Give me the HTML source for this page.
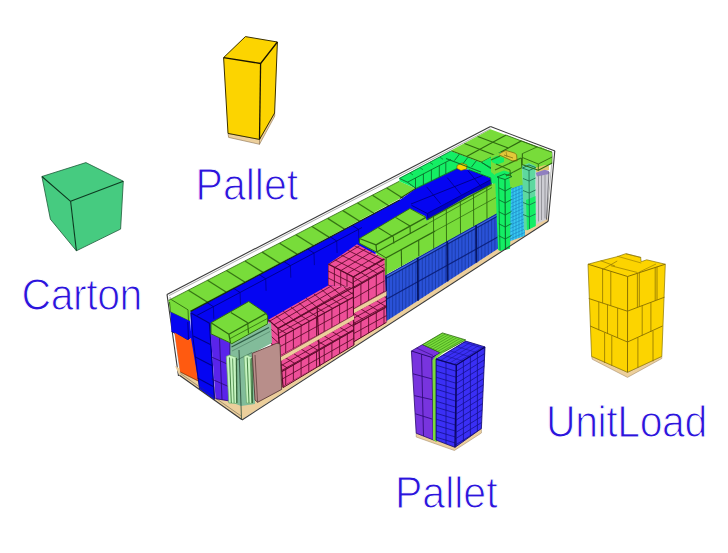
<!DOCTYPE html>
<html><head><meta charset="utf-8"><style>
html,body{margin:0;padding:0;background:#fff;}
body{width:728px;height:553px;overflow:hidden;position:relative;}
svg{position:absolute;left:0;top:0;}
.lbl{position:absolute;font-family:"Liberation Sans",sans-serif;color:#2B14DC;white-space:nowrap;line-height:1;-webkit-text-stroke:1.0px #fff;font-size:41px;transform:scaleY(1.07);transform-origin:0 34px;}
</style></head><body>
<svg width="728" height="553" viewBox="0 0 728 553">
<polygon points="41.9,176.5 85.9,162.6 123.3,181.2 120.6,229.1 76.4,250.8 50.4,219.2" fill="#46CB80" stroke="#1f5a3a" stroke-width="0.8" stroke-linejoin="round"/>
<polyline points="41.9,176.5 70.6,201.3 123.3,181.2" fill="none" stroke="#0d3a20" stroke-width="1.1" stroke-linejoin="round"/>
<line x1="70.6" y1="201.3" x2="76.4" y2="250.8" stroke="#0d3a20" stroke-width="1.1"/>
<polygon points="228.0,133.4 259.5,139.4 259.5,144.3 228.6,137.4" fill="#ECCF9C" stroke="#8a7050" stroke-width="0.6" stroke-linejoin="round"/>
<polygon points="259.5,139.4 274.6,113.0 274.8,116.0 259.5,144.3" fill="#ECCF9C" stroke="#8a7050" stroke-width="0.6" stroke-linejoin="round"/>
<polygon points="223.6,57.6 245.4,36.6 277.4,42.0 274.6,113.0 259.5,139.4 228.0,133.4" fill="#FCD400" stroke="#3a3000" stroke-width="1.0" stroke-linejoin="round"/>
<polyline points="223.6,57.6 260.6,63.5 277.4,42.0" fill="none" stroke="#1a1400" stroke-width="1.3" stroke-linejoin="round"/>
<line x1="260.6" y1="63.5" x2="259.5" y2="139.4" stroke="#1a1400" stroke-width="1.3"/>
<polygon points="591.6,356.4 627.5,372.3 661.8,356.4 661.8,358.5 627.5,377.4 592.3,359.3" fill="#ECCF9C" stroke="#9a8060" stroke-width="0.5" stroke-linejoin="round"/>
<polygon points="588.0,264.2 599.8,261.1 617.1,256.7 625.7,253.7 640.6,257.4 641.2,261.7 646.7,259.8 665.3,264.2 661.8,356.4 627.5,372.3 591.6,356.4" fill="#FCD400" stroke="#8a7400" stroke-width="0.7" stroke-linejoin="round"/>
<line x1="627.6" y1="276.5" x2="627.5" y2="372.3" stroke="#8a7000" stroke-width="1.0"/>
<polyline points="588.0,264.2 627.6,276.5 665.3,264.2" fill="none" stroke="#8a7000" stroke-width="1.0" stroke-linejoin="round"/>
<polyline points="588.8,298.5 627.4,311.2 664.5,297.2" fill="none" stroke="#8a7000" stroke-width="1.0" stroke-linejoin="round" opacity="0.9"/>
<polyline points="590.1,326.0 627.5,342.0 662.5,326.0" fill="none" stroke="#8a7000" stroke-width="1.0" stroke-linejoin="round" opacity="0.9"/>
<line x1="602.6" y1="268.8" x2="602.6" y2="303.1" stroke="#8a7000" stroke-width="0.9" opacity="0.85"/>
<line x1="610.8" y1="271.4" x2="610.8" y2="305.8" stroke="#8a7000" stroke-width="0.9" opacity="0.85"/>
<line x1="637.4" y1="273.3" x2="637.4" y2="307.5" stroke="#8a7000" stroke-width="0.9" opacity="0.85"/>
<line x1="639.3" y1="272.7" x2="639.3" y2="306.7" stroke="#8a7000" stroke-width="0.9" opacity="0.85"/>
<line x1="655.2" y1="267.5" x2="655.2" y2="300.7" stroke="#8a7000" stroke-width="0.9" opacity="0.85"/>
<line x1="657.0" y1="266.9" x2="657.0" y2="300.0" stroke="#8a7000" stroke-width="0.9" opacity="0.85"/>
<line x1="598.8" y1="301.9" x2="598.8" y2="330.2" stroke="#8a7000" stroke-width="0.9" opacity="0.85"/>
<line x1="607.5" y1="304.7" x2="607.5" y2="333.8" stroke="#8a7000" stroke-width="0.9" opacity="0.85"/>
<line x1="617.6" y1="308.0" x2="617.6" y2="337.9" stroke="#8a7000" stroke-width="0.9" opacity="0.85"/>
<line x1="642.2" y1="305.6" x2="642.2" y2="335.6" stroke="#8a7000" stroke-width="0.9" opacity="0.85"/>
<line x1="650.9" y1="302.3" x2="650.9" y2="331.9" stroke="#8a7000" stroke-width="0.9" opacity="0.85"/>
<line x1="604.6" y1="332.6" x2="604.6" y2="363.0" stroke="#8a7000" stroke-width="0.9" opacity="0.85"/>
<line x1="611.8" y1="335.6" x2="611.8" y2="365.9" stroke="#8a7000" stroke-width="0.9" opacity="0.85"/>
<line x1="637.9" y1="337.5" x2="637.9" y2="367.8" stroke="#8a7000" stroke-width="0.9" opacity="0.85"/>
<line x1="653.0" y1="331.0" x2="653.0" y2="361.3" stroke="#8a7000" stroke-width="0.9" opacity="0.85"/>
<line x1="600.7" y1="260.7" x2="615.0" y2="266.0" stroke="#8a7000" stroke-width="0.8" opacity="0.8"/>
<line x1="602.6" y1="269.5" x2="617.2" y2="261.0" stroke="#8a7000" stroke-width="0.8" opacity="0.8"/>
<line x1="610.8" y1="265.7" x2="637.4" y2="272.5" stroke="#8a7000" stroke-width="0.8" opacity="0.8"/>
<line x1="617.2" y1="256.2" x2="641.2" y2="263.0" stroke="#8a7000" stroke-width="0.8" opacity="0.7"/>
<line x1="626.0" y1="253.7" x2="641.2" y2="257.5" stroke="#8a7000" stroke-width="0.8" opacity="0.7"/>
<line x1="639.3" y1="272.0" x2="656.0" y2="264.0" stroke="#8a7000" stroke-width="0.8" opacity="0.7"/>
<polygon points="416.2,433.2 455.0,447.3 481.4,428.5 481.4,433.0 454.4,450.5 416.2,437.0" fill="#ECCF9C" stroke="#9a8060" stroke-width="0.5" stroke-linejoin="round"/>
<polygon points="411.4,351.0 422.5,344.6 440.6,352.8 436.0,356.0 436.0,441.0 416.2,433.2" fill="#7834DE" stroke="#2a0a70" stroke-width="0.8" stroke-linejoin="round"/>
<polyline points="411.4,351.0 431.9,357.4 440.6,352.8" fill="none" stroke="#2a0a70" stroke-width="1.0" stroke-linejoin="round"/>
<line x1="431.9" y1="357.4" x2="433.2" y2="439.1" stroke="#2a0a70" stroke-width="1.0"/>
<line x1="421.5" y1="354.3" x2="423.5" y2="436.0" stroke="#2a0a70" stroke-width="0.9" opacity="0.9"/>
<line x1="413.0" y1="373.8" x2="432.3" y2="379.0" stroke="#2a0a70" stroke-width="0.9" opacity="0.9"/>
<line x1="414.3" y1="395.6" x2="432.3" y2="399.7" stroke="#2a0a70" stroke-width="0.9" opacity="0.9"/>
<line x1="415.4" y1="413.8" x2="432.3" y2="419.1" stroke="#2a0a70" stroke-width="0.9" opacity="0.9"/>
<line x1="416.5" y1="348.0" x2="433.0" y2="355.5" stroke="#2a0a70" stroke-width="0.8" opacity="0.7"/>
<polygon points="422.5,344.6 442.4,332.9 465.7,339.9 443.5,352.2 440.6,352.8" fill="#78DC3A" stroke="#2f6a10" stroke-width="0.8" stroke-linejoin="round"/>
<clipPath id="c1"><polygon points="422.5,344.6 442.4,332.9 465.7,339.9 443.5,352.2 440.6,352.8"/></clipPath>
<path clip-path="url(#c1)" d="M370.3 320.3L461.2 267.6M371.4 322.2L462.3 269.5M372.5 324.2L463.5 271.4M373.6 326.1L464.6 273.4M374.8 328.1L465.7 275.3M375.9 330.0L466.8 277.3M377.0 332.0L468.0 279.2M378.2 333.9L469.1 281.2M379.3 335.9L470.2 283.1M380.4 337.8L471.4 285.1M381.5 339.8L472.5 287.0M382.7 341.7L473.6 289.0M383.8 343.6L474.7 290.9M384.9 345.6L475.9 292.8M386.1 347.5L477.0 294.8M387.2 349.5L478.1 296.7M388.3 351.4L479.2 298.7M389.4 353.4L480.4 300.6M390.6 355.3L481.5 302.6M391.7 357.3L482.6 304.5M392.8 359.2L483.8 306.5M394.0 361.2L484.9 308.4M395.1 363.1L486.0 310.4M396.2 365.0L487.1 312.3M397.3 367.0L488.3 314.2M398.5 368.9L489.4 316.2M399.6 370.9L490.5 318.1M400.7 372.8L491.7 320.1M401.9 374.8L492.8 322.0M403.0 376.7L493.9 324.0M404.1 378.7L495.0 325.9M405.2 380.6L496.2 327.9M406.4 382.6L497.3 329.8M407.5 384.5L498.4 331.8M408.6 386.4L499.6 333.7M409.8 388.4L500.7 335.7M410.9 390.3L501.8 337.6M412.0 392.3L502.9 339.5M413.1 394.2L504.1 341.5M414.3 396.2L505.2 343.4M415.4 398.1L506.3 345.4M416.5 400.1L507.5 347.3M417.7 402.0L508.6 349.3M418.8 404.0L509.7 351.2M419.9 405.9L510.8 353.2M421.0 407.8L512.0 355.1M422.2 409.8L513.1 357.1M423.3 411.7L514.2 359.0M424.4 413.7L515.4 360.9M425.5 415.6L516.5 362.9M426.7 417.6L517.6 364.8" stroke="#3a8a18" stroke-width="0.8" opacity="0.8" fill="none"/>
<polygon points="432.5,360.0 436.0,355.5 440.6,352.8 445.0,351.5 437.0,358.0 437.0,442.0 433.0,440.0" fill="#78DC3A"/>
<polygon points="436.0,359.2 465.7,341.1 485.0,346.9 481.4,428.5 455.0,447.3 436.0,440.0" fill="#3A2FF5" stroke="#10086a" stroke-width="0.8" stroke-linejoin="round"/>
<clipPath id="c2"><polygon points="436.0,359.2 456.4,365.0 455.0,447.3 436.0,440.0"/></clipPath>
<path clip-path="url(#c2)" d="M384.2 277.7L567.1 332.5M382.6 283.2L565.4 338.0M380.9 288.7L563.8 343.5M379.3 294.2L562.1 349.0M377.6 299.7L560.4 354.5M376.0 305.2L558.8 360.0M374.3 310.7L557.1 365.5M372.7 316.2L555.5 371.0M371.0 321.7L553.8 376.6M369.4 327.2L552.2 382.1M367.7 332.7L550.5 387.6M366.1 338.2L548.9 393.1M364.4 343.7L547.2 398.6M362.8 349.2L545.6 404.1M361.1 354.7L543.9 409.6M359.5 360.2L542.3 415.1M357.8 365.7L540.6 420.6M356.2 371.3L539.0 426.1M354.5 376.8L537.3 431.6M352.9 382.3L535.7 437.1M351.2 387.8L534.0 442.6M349.6 393.3L532.4 448.1M347.9 398.8L530.7 453.6M346.3 404.3L529.1 459.1M344.6 409.8L527.4 464.6M343.0 415.3L525.8 470.1M341.3 420.8L524.1 475.6M339.7 426.3L522.5 481.1M338.0 431.8L520.8 486.6M336.4 437.3L519.2 492.1M334.7 442.8L517.5 497.7M333.0 448.3L515.9 503.2M331.4 453.8L514.2 508.7M329.7 459.3L512.6 514.2M328.1 464.8L510.9 519.7M326.4 470.3L509.3 525.2M324.8 475.8L507.6 530.7" stroke="#14108a" stroke-width="0.9" opacity="0.85" fill="none"/>
<clipPath id="c3"><polygon points="436.0,359.2 456.4,365.0 455.0,447.3 436.0,440.0"/></clipPath>
<path clip-path="url(#c3)" d="M336.0 307.8L336.0 498.7M346.0 307.8L346.0 498.7M356.0 307.8L356.0 498.7M366.0 307.8L366.0 498.7M376.0 307.8L376.0 498.7M386.0 307.8L386.0 498.7M396.0 307.8L396.0 498.7M406.0 307.8L406.0 498.7M416.0 307.8L416.0 498.7M426.0 307.8L426.0 498.7M436.0 307.8L436.0 498.7M446.0 307.8L446.0 498.7M456.0 307.8L456.0 498.7M466.0 307.8L466.0 498.7M476.0 307.8L476.0 498.7M486.0 307.8L486.0 498.7M496.0 307.8L496.0 498.7M506.0 307.8L506.0 498.7M516.0 307.8L516.0 498.7M526.0 307.8L526.0 498.7M536.0 307.8L536.0 498.7M546.0 307.8L546.0 498.7M556.0 307.8L556.0 498.7" stroke="#14108a" stroke-width="0.9" opacity="0.85" fill="none"/>
<clipPath id="c4"><polygon points="456.4,365.0 485.0,346.9 481.4,428.5 455.0,447.3"/></clipPath>
<path clip-path="url(#c4)" d="M314.8 355.2L501.4 239.5M317.6 359.6L504.2 243.9M320.3 364.0L506.9 248.3M323.0 368.4L509.6 252.7M325.8 372.8L512.4 257.1M328.5 377.2L515.1 261.5M331.2 381.6L517.8 265.9M334.0 386.0L520.6 270.3M336.7 390.4L523.3 274.7M339.4 394.8L526.0 279.1M342.1 399.2L528.8 283.5M344.9 403.6L531.5 287.9M347.6 408.0L534.2 292.3M350.3 412.5L537.0 296.8M353.1 416.9L539.7 301.2M355.8 421.3L542.4 305.6M358.5 425.7L545.2 310.0M361.3 430.1L547.9 314.4M364.0 434.5L550.6 318.8M366.7 438.9L553.4 323.2M369.5 443.3L556.1 327.6M372.2 447.7L558.8 332.0M374.9 452.1L561.5 336.4M377.7 456.5L564.3 340.8M380.4 460.9L567.0 345.2M383.1 465.3L569.7 349.6M385.9 469.7L572.5 354.0M388.6 474.1L575.2 358.4M391.3 478.5L577.9 362.8M394.1 483.0L580.7 367.3M396.8 487.4L583.4 371.7M399.5 491.8L586.1 376.1M402.3 496.2L588.9 380.5M405.0 500.6L591.6 384.9M407.7 505.0L594.3 389.3M410.4 509.4L597.1 393.7M413.2 513.8L599.8 398.1M415.9 518.2L602.5 402.5M418.6 522.6L605.3 406.9M421.4 527.0L608.0 411.3M424.1 531.4L610.7 415.7M426.8 535.8L613.5 420.1M429.6 540.2L616.2 424.5M432.3 544.6L618.9 428.9M435.0 549.0L621.6 433.3M437.8 553.5L624.4 437.8" stroke="#14108a" stroke-width="0.9" opacity="0.85" fill="none"/>
<clipPath id="c5"><polygon points="456.4,365.0 485.0,346.9 481.4,428.5 455.0,447.3"/></clipPath>
<path clip-path="url(#c5)" d="M351.4 287.3L351.4 506.9M358.4 287.3L358.4 506.9M365.4 287.3L365.4 506.9M372.4 287.3L372.4 506.9M379.4 287.3L379.4 506.9M386.4 287.3L386.4 506.9M393.4 287.3L393.4 506.9M400.4 287.3L400.4 506.9M407.4 287.3L407.4 506.9M414.4 287.3L414.4 506.9M421.4 287.3L421.4 506.9M428.4 287.3L428.4 506.9M435.4 287.3L435.4 506.9M442.4 287.3L442.4 506.9M449.4 287.3L449.4 506.9M456.4 287.3L456.4 506.9M463.4 287.3L463.4 506.9M470.4 287.3L470.4 506.9M477.4 287.3L477.4 506.9M484.4 287.3L484.4 506.9M491.4 287.3L491.4 506.9M498.4 287.3L498.4 506.9M505.4 287.3L505.4 506.9M512.4 287.3L512.4 506.9M519.4 287.3L519.4 506.9M526.4 287.3L526.4 506.9M533.4 287.3L533.4 506.9M540.4 287.3L540.4 506.9M547.4 287.3L547.4 506.9M554.4 287.3L554.4 506.9M561.4 287.3L561.4 506.9M568.4 287.3L568.4 506.9M575.4 287.3L575.4 506.9M582.4 287.3L582.4 506.9M589.4 287.3L589.4 506.9" stroke="#14108a" stroke-width="0.9" opacity="0.85" fill="none"/>
<clipPath id="c6"><polygon points="436.0,359.2 465.7,341.1 485.0,346.9 456.4,365.0"/></clipPath>
<path clip-path="url(#c6)" d="M375.7 327.4L477.8 266.1M377.5 330.3L479.5 269.1M379.2 333.3L481.3 272.0M381.0 336.2L483.1 275.0M382.8 339.1L484.8 277.9M384.5 342.1L486.6 280.8M386.3 345.0L488.4 283.8M388.0 348.0L490.1 286.7M389.8 350.9L491.9 289.7M391.6 353.9L493.6 292.6M393.3 356.8L495.4 295.6M395.1 359.7L497.2 298.5M396.9 362.7L498.9 301.4M398.6 365.6L500.7 304.4M400.4 368.6L502.5 307.3M402.2 371.5L504.2 310.3M403.9 374.4L506.0 313.2M405.7 377.4L507.8 316.1M407.5 380.3L509.5 319.1M409.2 383.3L511.3 322.0M411.0 386.2L513.1 325.0M412.8 389.1L514.8 327.9M414.5 392.1L516.6 330.8M416.3 395.0L518.4 333.8M418.0 398.0L520.1 336.7M419.8 400.9L521.9 339.7M421.6 403.9L523.6 342.6M423.3 406.8L525.4 345.6M425.1 409.7L527.2 348.5M426.9 412.7L528.9 351.4M428.6 415.6L530.7 354.4M430.4 418.6L532.5 357.3M432.2 421.5L534.2 360.3M433.9 424.4L536.0 363.2M435.7 427.4L537.8 366.1M437.5 430.3L539.5 369.1M439.2 433.3L541.3 372.0M441.0 436.2L543.1 375.0M442.8 439.1L544.8 377.9" stroke="#14108a" stroke-width="0.8" opacity="0.6" fill="none"/>
<clipPath id="c7"><polygon points="436.0,359.2 465.7,341.1 485.0,346.9 456.4,365.0"/></clipPath>
<path clip-path="url(#c7)" d="M384.2 400.4L498.2 434.6M385.9 394.6L499.9 428.8M387.6 388.8L501.7 423.0M389.4 383.0L503.4 417.2M391.1 377.2L505.1 411.4M392.8 371.5L506.9 405.7M394.6 365.7L508.6 399.9M396.3 359.9L510.3 394.1M398.0 354.1L512.1 388.3M399.8 348.3L513.8 382.5M401.5 342.6L515.5 376.8M403.2 336.8L517.3 371.0M405.0 331.0L519.0 365.2M406.7 325.2L520.7 359.4M408.4 319.4L522.5 353.6M410.2 313.7L524.2 347.9M411.9 307.9L525.9 342.1M413.6 302.1L527.7 336.3M415.4 296.3L529.4 330.5M417.1 290.5L531.1 324.7M418.8 284.8L532.9 319.0M420.6 279.0L534.6 313.2M422.3 273.2L536.3 307.4M424.1 267.4L538.1 301.6" stroke="#14108a" stroke-width="0.8" opacity="0.6" fill="none"/>
<line x1="456.4" y1="365.0" x2="455.0" y2="447.3" stroke="#0a0660" stroke-width="1.3"/>
<polyline points="436.0,359.2 456.4,365.0 485.0,346.9" fill="none" stroke="#0a0660" stroke-width="1.2" stroke-linejoin="round"/>
<line x1="167.0" y1="294.4" x2="490.5" y2="126.6" stroke="#3a3a3a" stroke-width="1.1"/>
<line x1="169.0" y1="295.6" x2="490.5" y2="128.8" stroke="#3a3a3a" stroke-width="0.6" opacity="0.7"/>
<line x1="490.5" y1="126.6" x2="555.0" y2="151.0" stroke="#3a3a3a" stroke-width="1.1"/>
<line x1="167.0" y1="294.4" x2="178.5" y2="376.0" stroke="#3a3a3a" stroke-width="1.1"/>
<line x1="170.0" y1="297.0" x2="180.5" y2="375.0" stroke="#3a3a3a" stroke-width="0.6" opacity="0.7"/>
<polygon points="190.5,311.4 400.0,199.8 415.9,188.4 457.7,168.2 468.7,169.6 490.7,177.9 491.3,186.0 440.0,215.0 380.0,250.0 330.0,290.0 270.0,322.0 210.0,332.0 191.0,322.0" fill="#0505F2"/>
<polygon points="168.5,300.4 399.4,181.2 415.9,188.4 400.0,198.5 190.5,311.4 190.0,321.5 171.0,312.5" fill="#78DC3A"/>
<line x1="207.0" y1="302.6" x2="213.4" y2="306.7" stroke="#00007a" stroke-width="1.0" opacity="0.8"/>
<line x1="233.7" y1="288.4" x2="240.1" y2="292.5" stroke="#00007a" stroke-width="1.0" opacity="0.8"/>
<line x1="259.4" y1="274.7" x2="265.7" y2="278.8" stroke="#00007a" stroke-width="1.0" opacity="0.8"/>
<line x1="284.0" y1="261.6" x2="290.4" y2="265.7" stroke="#00007a" stroke-width="1.0" opacity="0.8"/>
<line x1="307.6" y1="249.0" x2="314.0" y2="253.1" stroke="#00007a" stroke-width="1.0" opacity="0.8"/>
<line x1="330.3" y1="236.9" x2="336.7" y2="241.0" stroke="#00007a" stroke-width="1.0" opacity="0.8"/>
<line x1="352.1" y1="225.3" x2="358.5" y2="229.4" stroke="#00007a" stroke-width="1.0" opacity="0.8"/>
<line x1="191.0" y1="318.6" x2="362.0" y2="227.5" stroke="#00007a" stroke-width="1.0" opacity="0.8"/>
<line x1="213.4" y1="306.7" x2="213.8" y2="318.7" stroke="#00007a" stroke-width="0.9" opacity="0.7"/>
<line x1="240.1" y1="292.5" x2="240.5" y2="304.5" stroke="#00007a" stroke-width="0.9" opacity="0.7"/>
<line x1="265.7" y1="278.8" x2="266.1" y2="290.8" stroke="#00007a" stroke-width="0.9" opacity="0.7"/>
<line x1="290.4" y1="265.7" x2="290.8" y2="277.7" stroke="#00007a" stroke-width="0.9" opacity="0.7"/>
<line x1="314.0" y1="253.1" x2="314.4" y2="265.1" stroke="#00007a" stroke-width="0.9" opacity="0.7"/>
<line x1="336.7" y1="241.0" x2="337.1" y2="253.0" stroke="#00007a" stroke-width="0.9" opacity="0.7"/>
<line x1="358.5" y1="229.4" x2="358.9" y2="241.4" stroke="#00007a" stroke-width="0.9" opacity="0.7"/>
<line x1="188.4" y1="290.2" x2="207.6" y2="302.3" stroke="#2f6a10" stroke-width="1.3" opacity="0.9"/>
<line x1="207.5" y1="280.3" x2="226.4" y2="292.3" stroke="#2f6a10" stroke-width="1.3" opacity="0.9"/>
<line x1="226.5" y1="270.5" x2="245.1" y2="282.3" stroke="#2f6a10" stroke-width="1.3" opacity="0.9"/>
<line x1="245.0" y1="261.0" x2="263.3" y2="272.6" stroke="#2f6a10" stroke-width="1.3" opacity="0.9"/>
<line x1="262.2" y1="252.1" x2="280.2" y2="263.6" stroke="#2f6a10" stroke-width="1.3" opacity="0.9"/>
<line x1="279.6" y1="243.2" x2="297.4" y2="254.4" stroke="#2f6a10" stroke-width="1.3" opacity="0.9"/>
<line x1="296.0" y1="234.7" x2="313.5" y2="245.8" stroke="#2f6a10" stroke-width="1.3" opacity="0.9"/>
<line x1="312.0" y1="226.5" x2="329.3" y2="237.4" stroke="#2f6a10" stroke-width="1.3" opacity="0.9"/>
<line x1="327.7" y1="218.4" x2="344.7" y2="229.2" stroke="#2f6a10" stroke-width="1.3" opacity="0.9"/>
<line x1="342.9" y1="210.6" x2="359.7" y2="221.2" stroke="#2f6a10" stroke-width="1.3" opacity="0.9"/>
<line x1="357.6" y1="203.0" x2="374.2" y2="213.5" stroke="#2f6a10" stroke-width="1.3" opacity="0.9"/>
<line x1="372.5" y1="195.3" x2="388.8" y2="205.7" stroke="#2f6a10" stroke-width="1.3" opacity="0.9"/>
<line x1="386.8" y1="188.0" x2="402.9" y2="198.2" stroke="#2f6a10" stroke-width="1.3" opacity="0.9"/>
<line x1="168.5" y1="300.4" x2="399.4" y2="181.2" stroke="#2f6a10" stroke-width="1.0" opacity="0.8"/>
<line x1="190.5" y1="311.4" x2="400.0" y2="199.7" stroke="#102a00" stroke-width="1.3" opacity="0.95"/>
<line x1="171.2" y1="299.5" x2="188.0" y2="309.8" stroke="#2f6a10" stroke-width="1.0" opacity="0.9"/>
<line x1="170.4" y1="312.0" x2="190.0" y2="321.5" stroke="#2f6a10" stroke-width="1.2" opacity="0.9"/>
<line x1="188.0" y1="309.8" x2="188.5" y2="321.0" stroke="#2f6a10" stroke-width="1.0" opacity="0.9"/>
<line x1="169.5" y1="302.0" x2="170.5" y2="312.0" stroke="#2f6a10" stroke-width="1.0" opacity="0.9"/>
<polygon points="399.4,177.9 450.9,151.0 481.2,162.4 492.1,170.6 497.0,174.0 497.0,186.0 491.3,182.7 490.7,177.9 468.7,169.6 457.7,168.2 415.9,188.4 399.4,181.2" fill="#14EE64"/>
<polygon points="427.3,213.5 491.2,179.5 491.8,184.5 428.0,218.8" fill="#0000c8"/>
<line x1="427.3" y1="213.5" x2="491.2" y2="179.5" stroke="#00007a" stroke-width="1.0" opacity="0.8"/>
<line x1="411.0" y1="204.0" x2="490.0" y2="172.5" stroke="#00007a" stroke-width="1.0" opacity="0.8"/>
<line x1="426.6" y1="186.8" x2="440.6" y2="203.8" stroke="#00007a" stroke-width="1.0" opacity="0.75"/>
<line x1="447.2" y1="177.6" x2="461.2" y2="194.6" stroke="#00007a" stroke-width="1.0" opacity="0.75"/>
<line x1="467.8" y1="170.5" x2="481.8" y2="187.5" stroke="#00007a" stroke-width="1.0" opacity="0.75"/>
<line x1="411.5" y1="205.3" x2="427.3" y2="213.5" stroke="#00007a" stroke-width="1.0" opacity="0.8"/>
<line x1="427.3" y1="213.5" x2="428.0" y2="218.8" stroke="#00007a" stroke-width="1.0" opacity="0.8"/>
<polyline points="399.4,178.4 407.5,182.2 450.9,159.5" fill="none" stroke="#0a6a2a" stroke-width="1.0" stroke-linejoin="round" opacity="0.9"/>
<line x1="399.4" y1="178.4" x2="450.9" y2="151.0" stroke="#0a6a2a" stroke-width="1.0" opacity="0.8"/>
<line x1="407.5" y1="182.2" x2="415.9" y2="188.4" stroke="#0a6a2a" stroke-width="1.0" opacity="0.9"/>
<line x1="415.9" y1="188.4" x2="457.7" y2="168.2" stroke="#0a6a2a" stroke-width="1.1" opacity="0.9"/>
<line x1="415.5" y1="178.0" x2="415.5" y2="188.6" stroke="#0a6a2a" stroke-width="1.0" opacity="0.85"/>
<line x1="423.4" y1="173.9" x2="423.4" y2="184.8" stroke="#0a6a2a" stroke-width="1.0" opacity="0.85"/>
<line x1="431.4" y1="169.8" x2="431.4" y2="181.0" stroke="#0a6a2a" stroke-width="1.0" opacity="0.85"/>
<line x1="439.3" y1="165.7" x2="439.3" y2="177.2" stroke="#0a6a2a" stroke-width="1.0" opacity="0.85"/>
<line x1="445.8" y1="162.3" x2="445.8" y2="174.0" stroke="#0a6a2a" stroke-width="1.0" opacity="0.85"/>
<line x1="410.0" y1="172.9" x2="413.0" y2="174.9" stroke="#0a6a2a" stroke-width="0.9" opacity="0.7"/>
<line x1="420.0" y1="167.7" x2="423.0" y2="169.7" stroke="#0a6a2a" stroke-width="0.9" opacity="0.7"/>
<line x1="430.0" y1="162.5" x2="433.0" y2="164.5" stroke="#0a6a2a" stroke-width="0.9" opacity="0.7"/>
<line x1="440.0" y1="157.3" x2="443.0" y2="159.3" stroke="#0a6a2a" stroke-width="0.9" opacity="0.7"/>
<line x1="400.0" y1="198.5" x2="415.9" y2="188.4" stroke="#102a00" stroke-width="1.1" opacity="0.9"/>
<polygon points="450.9,150.5 490.5,129.3 552.0,152.2 552.2,163.0 539.0,168.5 524.0,161.0 500.8,152.1 492.1,156.5 481.2,162.4" fill="#78DC3A"/>
<polyline points="451.3,150.7 481.8,162.3 521.4,140.9" fill="none" stroke="#2f6a10" stroke-width="1.2" stroke-linejoin="round"/>
<line x1="466.6" y1="156.5" x2="506.1" y2="135.1" stroke="#2f6a10" stroke-width="1.1"/>
<line x1="464.5" y1="143.6" x2="495.0" y2="155.2" stroke="#2f6a10" stroke-width="1.1"/>
<line x1="477.7" y1="136.4" x2="508.2" y2="148.0" stroke="#2f6a10" stroke-width="1.1"/>
<line x1="521.4" y1="140.9" x2="552.0" y2="152.2" stroke="#2f6a10" stroke-width="1.0" opacity="0.8"/>
<line x1="506.1" y1="135.1" x2="537.0" y2="147.0" stroke="#2f6a10" stroke-width="1.0" opacity="0.8"/>
<polygon points="457.0,165.5 462.0,163.0 467.0,165.0 466.5,169.0 461.0,170.5 457.0,168.5" fill="#FCD400" stroke="#6a5a00" stroke-width="0.6" stroke-linejoin="round"/>
<polygon points="481.2,162.4 492.1,156.5 500.5,152.0 506.0,155.0 506.0,176.0 497.0,186.0 491.3,182.7 490.7,177.9 468.7,169.6" fill="#14EE64"/>
<line x1="468.7" y1="169.6" x2="490.7" y2="177.9" stroke="#0a6a2a" stroke-width="1.0" opacity="0.9"/>
<line x1="446.0" y1="158.5" x2="481.0" y2="172.0" stroke="#0a6a2a" stroke-width="1.1" opacity="0.9"/>
<line x1="459.5" y1="154.0" x2="454.5" y2="160.5" stroke="#0a6a2a" stroke-width="1.0" opacity="0.85"/>
<line x1="468.0" y1="157.2" x2="463.0" y2="163.7" stroke="#0a6a2a" stroke-width="1.0" opacity="0.85"/>
<line x1="476.5" y1="160.5" x2="471.5" y2="167.0" stroke="#0a6a2a" stroke-width="1.0" opacity="0.85"/>
<line x1="481.8" y1="162.3" x2="490.5" y2="168.5" stroke="#0a6a2a" stroke-width="1.0" opacity="0.85"/>
<line x1="490.5" y1="168.5" x2="497.0" y2="165.5" stroke="#0a6a2a" stroke-width="1.0" opacity="0.85"/>
<line x1="481.2" y1="162.4" x2="497.0" y2="171.0" stroke="#0a6a2a" stroke-width="1.0" opacity="0.8"/>
<line x1="490.7" y1="177.9" x2="491.3" y2="186.0" stroke="#0a6a2a" stroke-width="1.0" opacity="0.8"/>
<polygon points="175.0,366.0 242.0,401.0 546.0,213.0 548.2,221.3 241.7,419.5 179.4,375.2" fill="#ECCF9C"/>
<polygon points="359.4,238.5 409.9,208.5 425.2,216.1 426.8,220.5 467.3,196.3 491.3,184.5 496.0,183.0 500.0,212.0 480.0,223.5 384.9,275.3 383.0,266.0 375.3,252.0 359.4,243.2" fill="#78DC3A"/>
<polyline points="359.4,238.5 376.0,244.9 425.9,217.4" fill="none" stroke="#2f6a10" stroke-width="1.3" stroke-linejoin="round"/>
<polyline points="359.4,238.5 409.9,208.5 425.9,217.4" fill="none" stroke="#2f6a10" stroke-width="1.0" stroke-linejoin="round" opacity="0.9"/>
<line x1="376.0" y1="244.9" x2="376.7" y2="252.1" stroke="#2f6a10" stroke-width="1.2"/>
<line x1="376.7" y1="252.1" x2="427.4" y2="223.9" stroke="#2f6a10" stroke-width="1.2"/>
<line x1="359.4" y1="238.5" x2="359.4" y2="243.2" stroke="#2f6a10" stroke-width="1.0"/>
<line x1="359.4" y1="243.2" x2="376.7" y2="252.1" stroke="#2f6a10" stroke-width="1.0"/>
<line x1="378.2" y1="227.5" x2="393.4" y2="236.9" stroke="#2f6a10" stroke-width="1.1"/>
<line x1="395.5" y1="217.4" x2="410.0" y2="226.0" stroke="#2f6a10" stroke-width="1.1"/>
<line x1="393.4" y1="236.9" x2="393.8" y2="243.5" stroke="#2f6a10" stroke-width="1.1"/>
<line x1="410.0" y1="226.0" x2="410.3" y2="234.0" stroke="#2f6a10" stroke-width="1.1"/>
<line x1="386.1" y1="257.9" x2="435.0" y2="231.1" stroke="#2f6a10" stroke-width="1.2"/>
<line x1="376.7" y1="252.1" x2="386.1" y2="257.9" stroke="#2f6a10" stroke-width="1.0"/>
<line x1="386.1" y1="257.9" x2="386.0" y2="275.3" stroke="#2f6a10" stroke-width="1.1"/>
<line x1="401.3" y1="249.5" x2="401.6" y2="267.0" stroke="#2f6a10" stroke-width="1.1"/>
<line x1="418.7" y1="239.9" x2="418.8" y2="256.3" stroke="#2f6a10" stroke-width="1.1"/>
<line x1="427.5" y1="219.5" x2="491.5" y2="184.6" stroke="#2f6a10" stroke-width="1.2"/>
<line x1="427.4" y1="223.9" x2="492.0" y2="187.5" stroke="#2f6a10" stroke-width="0.9" opacity="0.8"/>
<line x1="435.0" y1="231.1" x2="496.0" y2="197.5" stroke="#2f6a10" stroke-width="0.9" opacity="0.8"/>
<line x1="433.5" y1="216.3" x2="433.7" y2="248.9" stroke="#2f6a10" stroke-width="1.0" opacity="0.9"/>
<line x1="446.3" y1="209.1" x2="446.5" y2="241.8" stroke="#2f6a10" stroke-width="1.0" opacity="0.9"/>
<line x1="460.3" y1="201.2" x2="460.5" y2="234.0" stroke="#2f6a10" stroke-width="1.0" opacity="0.9"/>
<line x1="473.5" y1="193.7" x2="473.7" y2="226.6" stroke="#2f6a10" stroke-width="1.0" opacity="0.9"/>
<line x1="486.8" y1="186.2" x2="487.0" y2="219.2" stroke="#2f6a10" stroke-width="1.0" opacity="0.9"/>
<polygon points="385.2,275.8 500.5,211.6 501.0,212.0 501.0,246.7 386.5,321.1" fill="#2A52D8"/>
<clipPath id="c8"><polygon points="385.2,275.8 500.5,211.6 501.0,212.0 501.0,246.7 386.5,321.1"/></clipPath>
<path clip-path="url(#c8)" d="M273.8 102.0L273.8 430.7M277.1 102.0L277.1 430.7M280.4 102.0L280.4 430.7M283.7 102.0L283.7 430.7M287.0 102.0L287.0 430.7M290.3 102.0L290.3 430.7M293.6 102.0L293.6 430.7M296.9 102.0L296.9 430.7M300.2 102.0L300.2 430.7M303.5 102.0L303.5 430.7M306.8 102.0L306.8 430.7M310.1 102.0L310.1 430.7M313.4 102.0L313.4 430.7M316.7 102.0L316.7 430.7M320.0 102.0L320.0 430.7M323.3 102.0L323.3 430.7M326.6 102.0L326.6 430.7M329.9 102.0L329.9 430.7M333.2 102.0L333.2 430.7M336.5 102.0L336.5 430.7M339.8 102.0L339.8 430.7M343.1 102.0L343.1 430.7M346.4 102.0L346.4 430.7M349.7 102.0L349.7 430.7M353.0 102.0L353.0 430.7M356.3 102.0L356.3 430.7M359.6 102.0L359.6 430.7M362.9 102.0L362.9 430.7M366.2 102.0L366.2 430.7M369.5 102.0L369.5 430.7M372.8 102.0L372.8 430.7M376.1 102.0L376.1 430.7M379.4 102.0L379.4 430.7M382.7 102.0L382.7 430.7M386.0 102.0L386.0 430.7M389.3 102.0L389.3 430.7M392.6 102.0L392.6 430.7M395.9 102.0L395.9 430.7M399.2 102.0L399.2 430.7M402.5 102.0L402.5 430.7M405.8 102.0L405.8 430.7M409.1 102.0L409.1 430.7M412.4 102.0L412.4 430.7M415.7 102.0L415.7 430.7M419.0 102.0L419.0 430.7M422.3 102.0L422.3 430.7M425.6 102.0L425.6 430.7M428.9 102.0L428.9 430.7M432.2 102.0L432.2 430.7M435.5 102.0L435.5 430.7M438.8 102.0L438.8 430.7M442.1 102.0L442.1 430.7M445.4 102.0L445.4 430.7M448.7 102.0L448.7 430.7M452.0 102.0L452.0 430.7M455.3 102.0L455.3 430.7M458.6 102.0L458.6 430.7M461.9 102.0L461.9 430.7M465.2 102.0L465.2 430.7M468.5 102.0L468.5 430.7M471.8 102.0L471.8 430.7M475.1 102.0L475.1 430.7M478.4 102.0L478.4 430.7M481.7 102.0L481.7 430.7M485.0 102.0L485.0 430.7M488.3 102.0L488.3 430.7M491.6 102.0L491.6 430.7M494.9 102.0L494.9 430.7M498.2 102.0L498.2 430.7M501.5 102.0L501.5 430.7M504.8 102.0L504.8 430.7M508.1 102.0L508.1 430.7M511.4 102.0L511.4 430.7M514.7 102.0L514.7 430.7M518.0 102.0L518.0 430.7M521.3 102.0L521.3 430.7M524.6 102.0L524.6 430.7M527.9 102.0L527.9 430.7M531.2 102.0L531.2 430.7M534.5 102.0L534.5 430.7M537.8 102.0L537.8 430.7M541.1 102.0L541.1 430.7M544.4 102.0L544.4 430.7M547.7 102.0L547.7 430.7M551.0 102.0L551.0 430.7M554.3 102.0L554.3 430.7M557.6 102.0L557.6 430.7M560.9 102.0L560.9 430.7M564.2 102.0L564.2 430.7M567.5 102.0L567.5 430.7M570.8 102.0L570.8 430.7M574.1 102.0L574.1 430.7M577.4 102.0L577.4 430.7M580.7 102.0L580.7 430.7M584.0 102.0L584.0 430.7M587.3 102.0L587.3 430.7M590.6 102.0L590.6 430.7M593.9 102.0L593.9 430.7M597.2 102.0L597.2 430.7M600.5 102.0L600.5 430.7M603.8 102.0L603.8 430.7M607.1 102.0L607.1 430.7M610.4 102.0L610.4 430.7M613.7 102.0L613.7 430.7" stroke="#1838a0" stroke-width="1.0" opacity="0.75" fill="none"/>
<polygon points="385.2,275.8 500.5,211.6 500.5,214.2 385.2,278.4" fill="#3a64e0"/>
<line x1="385.2" y1="276.1" x2="500.5" y2="211.9" stroke="#0a1e78" stroke-width="0.9" opacity="0.9"/>
<line x1="385.2" y1="278.8" x2="500.5" y2="214.6" stroke="#0a1e78" stroke-width="1.1" opacity="0.9"/>
<line x1="386.0" y1="299.4" x2="500.5" y2="235.6" stroke="#0a1e78" stroke-width="1.2" opacity="0.9"/>
<line x1="386.0" y1="275.4" x2="386.3" y2="321.4" stroke="#061460" stroke-width="1.8" opacity="0.95"/>
<line x1="417.7" y1="257.7" x2="418.0" y2="300.8" stroke="#061460" stroke-width="1.8" opacity="0.95"/>
<line x1="447.2" y1="241.3" x2="447.5" y2="281.6" stroke="#061460" stroke-width="1.8" opacity="0.95"/>
<line x1="476.1" y1="225.2" x2="476.4" y2="262.8" stroke="#061460" stroke-width="1.8" opacity="0.95"/>
<line x1="501.0" y1="212.0" x2="501.0" y2="246.7" stroke="#061460" stroke-width="1.2" opacity="0.9"/>
<polygon points="268.3,319.7 278.0,328.4 283.0,387.6 271.0,345.0" fill="#EE4F98"/>
<polygon points="268.3,319.7 328.1,285.5 353.4,287.2 278.0,328.4" fill="#EE4F98"/>
<polygon points="278.0,328.4 353.4,287.2 353.9,345.1 283.1,387.6" fill="#EE4F98"/>
<polygon points="328.3,264.0 356.9,244.3 384.5,259.0 353.2,276.9" fill="#EE4F98"/>
<polygon points="353.2,276.9 384.5,259.0 386.5,322.3 353.9,341.8" fill="#EE4F98"/>
<polygon points="328.1,264.0 353.2,276.9 353.4,287.2 328.1,285.5" fill="#EE4F98"/>
<clipPath id="c9"><polygon points="278.0,328.4 353.4,287.2 353.4,297.1 278.0,338.4"/></clipPath>
<path clip-path="url(#c9)" d="M181.1 267.0L349.8 174.8M183.3 271.0L352.0 178.8M185.5 275.0L354.2 182.8M187.6 279.0L356.4 186.8M189.8 283.0L358.6 190.8M192.0 287.0L360.8 194.8M194.2 291.0L363.0 198.8M196.4 295.0L365.1 202.8M198.6 299.0L367.3 206.8M200.8 303.0L369.5 210.8M203.0 307.0L371.7 214.8M205.2 311.0L373.9 218.8M207.3 315.0L376.1 222.8M209.5 319.0L378.3 226.8M211.7 323.0L380.5 230.8M213.9 327.0L382.6 234.8M216.1 331.0L384.8 238.8M218.3 335.0L387.0 242.8M220.5 339.0L389.2 246.8M222.7 343.0L391.4 250.8M224.8 347.0L393.6 254.8M227.0 351.0L395.8 258.8M229.2 355.1L398.0 262.8M231.4 359.1L400.2 266.9M233.6 363.1L402.3 270.9M235.8 367.1L404.5 274.9M238.0 371.1L406.7 278.9M240.2 375.1L408.9 282.9M242.4 379.1L411.1 286.9M244.5 383.1L413.3 290.9M246.7 387.1L415.5 294.9M248.9 391.1L417.7 298.9M251.1 395.1L419.8 302.9M253.3 399.1L422.0 306.9M255.5 403.1L424.2 310.9M257.7 407.1L426.4 314.9M259.9 411.1L428.6 318.9M262.0 415.1L430.8 322.9M264.2 419.1L433.0 326.9M266.4 423.1L435.2 330.9M268.6 427.1L437.4 334.9M270.8 431.1L439.5 338.9M273.0 435.1L441.7 342.9M275.2 439.1L443.9 346.9M277.4 443.1L446.1 350.9M279.5 447.2L448.3 354.9M281.7 451.2L450.5 359.0" stroke="#5a0a28" stroke-width="1.0" opacity="0.85" fill="none"/>
<clipPath id="c10"><polygon points="278.0,328.4 353.4,287.2 353.4,297.1 278.0,338.4"/></clipPath>
<path clip-path="url(#c10)" d="M176.3 355.2L339.7 456.5M180.3 348.7L343.8 450.0M184.4 342.2L347.8 443.5M188.4 335.7L351.8 437.0M192.4 329.2L355.8 430.5M196.4 322.7L359.9 424.1M200.4 316.2L363.9 417.6M204.5 309.8L367.9 411.1M208.5 303.3L371.9 404.6M212.5 296.8L375.9 398.1M216.5 290.3L380.0 391.6M220.6 283.8L384.0 385.1M224.6 277.3L388.0 378.6M228.6 270.8L392.0 372.2M232.6 264.3L396.1 365.7M236.6 257.9L400.1 359.2M240.7 251.4L404.1 352.7M244.7 244.9L408.1 346.2M248.7 238.4L412.1 339.7M252.7 231.9L416.2 333.2M256.8 225.4L420.2 326.7M260.8 218.9L424.2 320.3M264.8 212.4L428.2 313.8M268.8 206.0L432.3 307.3M272.8 199.5L436.3 300.8M276.9 193.0L440.3 294.3M280.9 186.5L444.3 287.8M284.9 180.0L448.3 281.3M288.9 173.5L452.4 274.8" stroke="#5a0a28" stroke-width="1.0" opacity="0.85" fill="none"/>
<clipPath id="c11"><polygon points="278.0,338.4 353.4,297.1 353.4,315.5 278.0,357.0"/></clipPath>
<path clip-path="url(#c11)" d="M201.0 225.8L201.0 428.3M208.7 225.8L208.7 428.3M216.4 225.8L216.4 428.3M224.1 225.8L224.1 428.3M231.8 225.8L231.8 428.3M239.5 225.8L239.5 428.3M247.2 225.8L247.2 428.3M254.9 225.8L254.9 428.3M262.6 225.8L262.6 428.3M270.3 225.8L270.3 428.3M278.0 225.8L278.0 428.3M285.7 225.8L285.7 428.3M293.4 225.8L293.4 428.3M301.1 225.8L301.1 428.3M308.8 225.8L308.8 428.3M316.5 225.8L316.5 428.3M324.2 225.8L324.2 428.3M331.9 225.8L331.9 428.3M339.6 225.8L339.6 428.3M347.3 225.8L347.3 428.3M355.0 225.8L355.0 428.3M362.7 225.8L362.7 428.3M370.4 225.8L370.4 428.3M378.1 225.8L378.1 428.3M385.8 225.8L385.8 428.3M393.5 225.8L393.5 428.3M401.2 225.8L401.2 428.3M408.9 225.8L408.9 428.3M416.6 225.8L416.6 428.3M424.3 225.8L424.3 428.3M432.0 225.8L432.0 428.3" stroke="#5a0a28" stroke-width="1.0" opacity="0.85" fill="none"/>
<clipPath id="c12"><polygon points="278.0,338.4 353.4,297.1 353.4,315.5 278.0,357.0"/></clipPath>
<path clip-path="url(#c12)" d="M172.1 275.5L349.9 178.3M176.0 282.6L353.8 185.5M179.9 289.8L357.7 192.6M183.8 296.9L361.6 199.8M187.7 304.1L365.5 206.9M191.6 311.2L369.4 214.1M195.5 318.4L373.3 221.3M199.5 325.6L377.2 228.4M203.4 332.7L381.1 235.6M207.3 339.9L385.1 242.7M211.2 347.0L389.0 249.9M215.1 354.2L392.9 257.0M219.0 361.3L396.8 264.2M222.9 368.5L400.7 271.4M226.8 375.7L404.6 278.5M230.7 382.8L408.5 285.7M234.7 390.0L412.4 292.8M238.6 397.1L416.3 300.0M242.5 404.3L420.3 307.2M246.4 411.5L424.2 314.3M250.3 418.6L428.1 321.5M254.2 425.8L432.0 328.6M258.1 432.9L435.9 335.8M262.0 440.1L439.8 342.9M265.9 447.2L443.7 350.1M269.9 454.4L447.6 357.3M273.8 461.6L451.5 364.4M277.7 468.7L455.5 371.6M281.6 475.9L459.4 378.7" stroke="#5a0a28" stroke-width="1.0" opacity="0.85" fill="none"/>
<line x1="278.0" y1="338.4" x2="353.4" y2="297.1" stroke="#5a0a28" stroke-width="1.1" opacity="0.9"/>
<clipPath id="c13"><polygon points="281.0,360.5 354.0,319.0 354.0,330.0 281.0,371.9"/></clipPath>
<path clip-path="url(#c13)" d="M185.4 305.6L350.8 211.6M187.7 309.6L353.1 215.5M189.9 313.5L355.3 219.5M192.1 317.4L357.6 223.4M194.4 321.4L359.8 227.3M196.6 325.3L362.0 231.2M198.8 329.2L364.3 235.2M201.1 333.1L366.5 239.1M203.3 337.1L368.7 243.0M205.5 341.0L371.0 247.0M207.8 344.9L373.2 250.9M210.0 348.9L375.4 254.8M212.2 352.8L377.7 258.8M214.5 356.7L379.9 262.7M216.7 360.7L382.1 266.6M218.9 364.6L384.4 270.5M221.2 368.5L386.6 274.5M223.4 372.4L388.8 278.4M225.6 376.4L391.1 282.3M227.9 380.3L393.3 286.3M230.1 384.2L395.5 290.2M232.3 388.2L397.8 294.1M234.6 392.1L400.0 298.0M236.8 396.0L402.2 302.0M239.0 400.0L404.5 305.9M241.3 403.9L406.7 309.8M243.5 407.8L408.9 313.8M245.7 411.7L411.2 317.7M248.0 415.7L413.4 321.6M250.2 419.6L415.6 325.6M252.5 423.5L417.9 329.5M254.7 427.5L420.1 333.4M256.9 431.4L422.3 337.3M259.2 435.3L424.6 341.3M261.4 439.2L426.8 345.2M263.6 443.2L429.0 349.1M265.9 447.1L431.3 353.1M268.1 451.0L433.5 357.0M270.3 455.0L435.7 360.9M272.6 458.9L438.0 364.9M274.8 462.8L440.2 368.8M277.0 466.8L442.4 372.7M279.3 470.7L444.7 376.6M281.5 474.6L446.9 380.6M283.7 478.5L449.2 384.5M286.0 482.5L451.4 388.4" stroke="#5a0a28" stroke-width="1.0" opacity="0.85" fill="none"/>
<clipPath id="c14"><polygon points="281.0,360.5 354.0,319.0 354.0,330.0 281.0,371.9"/></clipPath>
<path clip-path="url(#c14)" d="M181.3 384.6L343.0 484.9M185.4 378.0L347.1 478.3M189.5 371.4L351.2 471.6M193.6 364.8L355.3 465.0M197.7 358.2L359.4 458.4M201.8 351.5L363.5 451.8M205.9 344.9L367.6 445.2M210.0 338.3L371.7 438.6M214.1 331.7L375.8 432.0M218.2 325.1L379.9 425.4M222.3 318.5L384.0 418.8M226.4 311.9L388.1 412.2M230.5 305.3L392.2 405.5M234.6 298.7L396.3 398.9M238.7 292.1L400.4 392.3M242.8 285.4L404.5 385.7M246.9 278.8L408.6 379.1M251.0 272.2L412.7 372.5M255.0 265.6L416.8 365.9M259.1 259.0L420.9 359.3M263.2 252.4L425.0 352.7M267.3 245.8L429.1 346.0M271.4 239.2L433.2 339.4M275.5 232.6L437.3 332.8M279.6 226.0L441.4 326.2M283.7 219.3L445.5 319.6M287.8 212.7L449.6 313.0M291.9 206.1L453.7 306.4" stroke="#5a0a28" stroke-width="1.0" opacity="0.85" fill="none"/>
<clipPath id="c15"><polygon points="281.0,371.9 354.0,330.0 354.0,345.1 281.0,387.6"/></clipPath>
<path clip-path="url(#c15)" d="M208.7 260.8L208.7 456.8M216.4 260.8L216.4 456.8M224.1 260.8L224.1 456.8M231.8 260.8L231.8 456.8M239.5 260.8L239.5 456.8M247.2 260.8L247.2 456.8M254.9 260.8L254.9 456.8M262.6 260.8L262.6 456.8M270.3 260.8L270.3 456.8M278.0 260.8L278.0 456.8M285.7 260.8L285.7 456.8M293.4 260.8L293.4 456.8M301.1 260.8L301.1 456.8M308.8 260.8L308.8 456.8M316.5 260.8L316.5 456.8M324.2 260.8L324.2 456.8M331.9 260.8L331.9 456.8M339.6 260.8L339.6 456.8M347.3 260.8L347.3 456.8M355.0 260.8L355.0 456.8M362.7 260.8L362.7 456.8M370.4 260.8L370.4 456.8M378.1 260.8L378.1 456.8M385.8 260.8L385.8 456.8M393.5 260.8L393.5 456.8M401.2 260.8L401.2 456.8M408.9 260.8L408.9 456.8M416.6 260.8L416.6 456.8M424.3 260.8L424.3 456.8" stroke="#5a0a28" stroke-width="1.0" opacity="0.85" fill="none"/>
<clipPath id="c16"><polygon points="281.0,371.9 354.0,330.0 354.0,345.1 281.0,387.6"/></clipPath>
<path clip-path="url(#c16)" d="M178.4 312.3L348.8 215.5M181.7 318.3L352.1 221.4M185.1 324.2L355.5 227.3M188.5 330.2L358.9 233.3M191.9 336.1L362.3 239.2M195.2 342.0L365.7 245.2M198.6 348.0L369.0 251.1M202.0 353.9L372.4 257.0M205.4 359.9L375.8 263.0M208.7 365.8L379.2 268.9M212.1 371.7L382.5 274.9M215.5 377.7L385.9 280.8M218.9 383.6L389.3 286.7M222.3 389.6L392.7 292.7M225.6 395.5L396.0 298.6M229.0 401.4L399.4 304.6M232.4 407.4L402.8 310.5M235.8 413.3L406.2 316.4M239.1 419.3L409.5 322.4M242.5 425.2L412.9 328.3M245.9 431.1L416.3 334.3M249.3 437.1L419.7 340.2M252.6 443.0L423.1 346.1M256.0 449.0L426.4 352.1M259.4 454.9L429.8 358.0M262.8 460.8L433.2 364.0M266.2 466.8L436.6 369.9M269.5 472.7L439.9 375.8M272.9 478.7L443.3 381.8M276.3 484.6L446.7 387.7M279.7 490.5L450.1 393.7M283.0 496.5L453.4 399.6M286.4 502.4L456.8 405.5" stroke="#5a0a28" stroke-width="1.0" opacity="0.85" fill="none"/>
<line x1="281.0" y1="371.9" x2="354.0" y2="330.0" stroke="#5a0a28" stroke-width="1.1" opacity="0.9"/>
<clipPath id="c17"><polygon points="353.2,276.9 384.5,259.0 384.5,270.3 353.2,288.2"/></clipPath>
<path clip-path="url(#c17)" d="M300.2 250.0L383.3 202.5M302.5 253.9L385.5 206.4M304.7 257.8L387.8 210.3M307.0 261.7L390.0 214.3M309.2 265.7L392.2 218.2M311.4 269.6L394.5 222.1M313.7 273.5L396.7 226.0M315.9 277.4L399.0 229.9M318.2 281.3L401.2 233.8M320.4 285.3L403.4 237.8M322.6 289.2L405.7 241.7M324.9 293.1L407.9 245.6M327.1 297.0L410.2 249.5M329.4 300.9L412.4 253.4M331.6 304.8L414.7 257.4M333.8 308.8L416.9 261.3M336.1 312.7L419.1 265.2M338.3 316.6L421.4 269.1M340.6 320.5L423.6 273.0M342.8 324.4L425.9 276.9M345.1 328.4L428.1 280.9M347.3 332.3L430.3 284.8M349.5 336.2L432.6 288.7M351.8 340.1L434.8 292.6M354.0 344.0L437.1 296.5" stroke="#5a0a28" stroke-width="1.0" opacity="0.85" fill="none"/>
<clipPath id="c18"><polygon points="353.2,276.9 384.5,259.0 384.5,270.3 353.2,288.2"/></clipPath>
<path clip-path="url(#c18)" d="M297.7 297.6L379.0 348.0M301.8 290.9L383.1 341.3M305.9 284.3L387.2 334.7M310.1 277.7L391.4 328.1M314.2 271.1L395.5 321.5M318.3 264.4L399.6 314.8M322.4 257.8L403.7 308.2M326.5 251.2L407.8 301.6M330.6 244.5L411.9 294.9M334.7 237.9L416.0 288.3M338.8 231.3L420.1 281.7M342.9 224.6L424.2 275.1M347.0 218.0L428.3 268.4M351.2 211.4L432.5 261.8M355.3 204.8L436.6 255.2M359.4 198.1L440.7 248.5" stroke="#5a0a28" stroke-width="1.0" opacity="0.85" fill="none"/>
<clipPath id="c19"><polygon points="353.2,288.2 384.5,270.3 384.5,291.4 353.2,309.3"/></clipPath>
<path clip-path="url(#c19)" d="M299.3 234.8L299.3 344.8M307.0 234.8L307.0 344.8M314.7 234.8L314.7 344.8M322.4 234.8L322.4 344.8M330.1 234.8L330.1 344.8M337.8 234.8L337.8 344.8M345.5 234.8L345.5 344.8M353.2 234.8L353.2 344.8M360.9 234.8L360.9 344.8M368.6 234.8L368.6 344.8M376.3 234.8L376.3 344.8M384.0 234.8L384.0 344.8M391.7 234.8L391.7 344.8M399.4 234.8L399.4 344.8M407.1 234.8L407.1 344.8M414.8 234.8L414.8 344.8M422.5 234.8L422.5 344.8M430.2 234.8L430.2 344.8M437.9 234.8L437.9 344.8" stroke="#5a0a28" stroke-width="1.0" opacity="0.85" fill="none"/>
<clipPath id="c20"><polygon points="353.2,288.2 384.5,270.3 384.5,291.4 353.2,309.3"/></clipPath>
<path clip-path="url(#c20)" d="M284.8 253.6L380.3 199.0M289.4 261.6L384.8 207.0M293.9 269.5L389.3 214.9M298.4 277.4L393.9 222.9M303.0 285.4L398.4 230.8M307.5 293.3L403.0 238.7M312.1 301.2L407.5 246.7M316.6 309.2L412.0 254.6M321.1 317.1L416.6 262.5M325.7 325.0L421.1 270.5M330.2 333.0L425.6 278.4M334.7 340.9L430.2 286.3M339.3 348.9L434.7 294.3M343.8 356.8L439.3 302.2M348.4 364.7L443.8 310.1M352.9 372.7L448.3 318.1M357.4 380.6L452.9 326.0" stroke="#5a0a28" stroke-width="1.0" opacity="0.85" fill="none"/>
<line x1="353.2" y1="288.2" x2="384.5" y2="270.3" stroke="#5a0a28" stroke-width="1.1" opacity="0.9"/>
<clipPath id="c21"><polygon points="354.0,312.8 386.5,295.0 386.5,306.5 354.0,325.0"/></clipPath>
<path clip-path="url(#c21)" d="M300.4 284.9L386.8 237.7M302.6 288.9L388.9 241.7M304.8 292.9L391.1 245.7M307.0 296.9L393.3 249.7M309.2 300.9L395.5 253.7M311.4 304.9L397.7 257.7M313.6 308.9L399.9 261.7M315.8 312.9L402.1 265.7M317.9 316.9L404.3 269.7M320.1 320.9L406.5 273.7M322.3 324.9L408.7 277.7M324.5 328.9L410.9 281.7M326.7 332.9L413.0 285.7M328.9 336.9L415.2 289.7M331.1 340.9L417.4 293.7M333.3 344.9L419.6 297.7M335.5 348.9L421.8 301.7M337.7 352.9L424.0 305.7M339.9 356.9L426.2 309.7M342.0 360.9L428.4 313.7M344.2 364.9L430.6 317.7M346.4 368.9L432.8 321.7M348.6 372.9L434.9 325.7M350.8 376.9L437.1 329.7M353.0 380.9L439.3 333.7" stroke="#5a0a28" stroke-width="1.0" opacity="0.85" fill="none"/>
<clipPath id="c22"><polygon points="354.0,312.8 386.5,295.0 386.5,306.5 354.0,325.0"/></clipPath>
<path clip-path="url(#c22)" d="M298.1 333.0L381.7 384.9M302.1 326.5L385.8 378.4M306.1 320.0L389.8 371.9M310.2 313.5L393.8 365.4M314.2 307.0L397.8 358.9M318.2 300.5L401.9 352.4M322.2 294.0L405.9 345.9M326.3 287.5L409.9 339.4M330.3 281.0L413.9 332.9M334.3 274.6L418.0 326.4M338.3 268.1L422.0 319.9M342.4 261.6L426.0 313.4M346.4 255.1L430.1 306.9M350.4 248.6L434.1 300.4M354.4 242.1L438.1 293.9M358.5 235.6L442.1 287.5" stroke="#5a0a28" stroke-width="1.0" opacity="0.85" fill="none"/>
<clipPath id="c23"><polygon points="354.0,325.0 386.5,306.5 386.5,322.3 354.0,341.8"/></clipPath>
<path clip-path="url(#c23)" d="M307.0 271.1L307.0 377.1M314.7 271.1L314.7 377.1M322.4 271.1L322.4 377.1M330.1 271.1L330.1 377.1M337.8 271.1L337.8 377.1M345.5 271.1L345.5 377.1M353.2 271.1L353.2 377.1M360.9 271.1L360.9 377.1M368.6 271.1L368.6 377.1M376.3 271.1L376.3 377.1M384.0 271.1L384.0 377.1M391.7 271.1L391.7 377.1M399.4 271.1L399.4 377.1M407.1 271.1L407.1 377.1M414.8 271.1L414.8 377.1M422.5 271.1L422.5 377.1M430.2 271.1L430.2 377.1M437.9 271.1L437.9 377.1" stroke="#5a0a28" stroke-width="1.0" opacity="0.85" fill="none"/>
<clipPath id="c24"><polygon points="354.0,325.0 386.5,306.5 386.5,322.3 354.0,341.8"/></clipPath>
<path clip-path="url(#c24)" d="M292.0 291.6L385.0 240.7M295.6 298.1L388.5 247.2M299.1 304.6L392.1 253.7M302.6 311.1L395.6 260.1M306.2 317.5L399.2 266.6M309.7 324.0L402.7 273.1M313.3 330.5L406.3 279.5M316.8 336.9L409.8 286.0M320.4 343.4L413.3 292.5M323.9 349.9L416.9 298.9M327.5 356.3L420.4 305.4M331.0 362.8L424.0 311.9M334.5 369.3L427.5 318.4M338.1 375.7L431.1 324.8M341.6 382.2L434.6 331.3M345.2 388.7L438.2 337.8M348.7 395.2L441.7 344.2M352.3 401.6L445.2 350.7M355.8 408.1L448.8 357.2" stroke="#5a0a28" stroke-width="1.0" opacity="0.85" fill="none"/>
<line x1="354.0" y1="325.0" x2="386.5" y2="306.5" stroke="#5a0a28" stroke-width="1.1" opacity="0.9"/>
<clipPath id="c25"><polygon points="268.3,319.7 328.1,285.5 353.4,287.2 278.0,328.4"/></clipPath>
<path clip-path="url(#c25)" d="M170.7 263.7L345.0 164.3M173.3 268.2L347.6 168.9M175.9 272.7L350.2 173.4M178.5 277.2L352.7 177.9M181.0 281.8L355.3 182.4M183.6 286.3L357.9 187.0M186.2 290.8L360.5 191.5M188.8 295.3L363.1 196.0M191.4 299.9L365.6 200.5M193.9 304.4L368.2 205.0M196.5 308.9L370.8 209.6M199.1 313.4L373.4 214.1M201.7 318.0L376.0 218.6M204.3 322.5L378.5 223.1M206.8 327.0L381.1 227.7M209.4 331.5L383.7 232.2M212.0 336.1L386.3 236.7M214.6 340.6L388.8 241.2M217.1 345.1L391.4 245.8M219.7 349.6L394.0 250.3M222.3 354.2L396.6 254.8M224.9 358.7L399.2 259.3M227.5 363.2L401.7 263.9M230.0 367.7L404.3 268.4M232.6 372.2L406.9 272.9M235.2 376.8L409.5 277.4M237.8 381.3L412.1 282.0M240.4 385.8L414.6 286.5M242.9 390.3L417.2 291.0M245.5 394.9L419.8 295.5M248.1 399.4L422.4 300.1M250.7 403.9L424.9 304.6M253.2 408.4L427.5 309.1M255.8 413.0L430.1 313.6M258.4 417.5L432.7 318.2M261.0 422.0L435.3 322.7M263.6 426.5L437.8 327.2M266.1 431.1L440.4 331.7M268.7 435.6L443.0 336.2M271.3 440.1L445.6 340.8M273.9 444.6L448.2 345.3M276.5 449.2L450.7 349.8" stroke="#5a0a28" stroke-width="1.0" opacity="0.85" fill="none"/>
<clipPath id="c26"><polygon points="268.3,319.7 328.1,285.5 353.4,287.2 278.0,328.4"/></clipPath>
<path clip-path="url(#c26)" d="M161.9 327.3L314.7 457.2M167.2 321.0L320.1 450.9M172.6 314.7L325.4 444.6M178.0 308.4L330.8 438.4M183.3 302.1L336.2 432.1M188.7 295.8L341.5 425.8M194.0 289.5L346.9 419.5M199.4 283.2L352.2 413.2M204.7 276.9L357.6 406.9M210.1 270.7L362.9 400.6M215.4 264.4L368.3 394.3M220.8 258.1L373.6 388.0M226.1 251.8L379.0 381.7M231.5 245.5L384.3 375.4M236.8 239.2L389.7 369.1M242.2 232.9L395.0 362.8M247.5 226.6L400.4 356.5M252.9 220.3L405.7 350.2M258.2 214.0L411.1 343.9M263.6 207.7L416.4 337.6M268.9 201.4L421.8 331.3M274.3 195.1L427.1 325.0M279.6 188.8L432.5 318.7M285.0 182.5L437.8 312.4M290.3 176.2L443.2 306.1M295.7 169.9L448.5 299.8M301.0 163.6L453.9 293.5M306.4 157.3L459.2 287.2" stroke="#5a0a28" stroke-width="1.0" opacity="0.85" fill="none"/>
<clipPath id="c27"><polygon points="328.3,264.0 356.9,244.3 384.5,259.0 353.2,276.9"/></clipPath>
<path clip-path="url(#c27)" d="M254.6 226.9L374.6 154.9M257.6 232.0L377.6 160.0M260.6 237.0L380.6 165.0M263.6 242.0L383.6 170.0M266.6 247.0L386.6 175.0M269.6 252.0L389.6 180.0M272.7 257.0L392.7 185.0M275.7 262.0L395.7 190.0M278.7 267.1L398.7 195.1M281.7 272.1L401.7 200.1M284.7 277.1L404.7 205.1M287.7 282.1L407.7 210.1M290.7 287.1L410.7 215.1M293.7 292.1L413.7 220.1M296.7 297.1L416.7 225.1M299.7 302.2L419.7 230.2M302.7 307.2L422.7 235.2M305.8 312.2L425.8 240.2M308.8 317.2L428.8 245.2M311.8 322.2L431.8 250.2M314.8 327.2L434.8 255.2M317.8 332.2L437.8 260.2M320.8 337.3L440.8 265.3M323.8 342.3L443.8 270.3M326.8 347.3L446.8 275.3M329.8 352.3L449.8 280.3M332.8 357.3L452.8 285.3M335.8 362.3L455.8 290.3" stroke="#5a0a28" stroke-width="1.0" opacity="0.85" fill="none"/>
<clipPath id="c28"><polygon points="328.3,264.0 356.9,244.3 384.5,259.0 353.2,276.9"/></clipPath>
<path clip-path="url(#c28)" d="M258.0 300.9L383.2 363.5M261.2 294.5L386.4 357.1M264.4 288.1L389.6 350.7M267.6 281.8L392.7 344.4M270.8 275.4L395.9 338.0M273.9 269.1L399.1 331.7M277.1 262.7L402.3 325.3M280.3 256.3L405.5 318.9M283.5 250.0L408.6 312.6M286.7 243.6L411.8 306.2M289.8 237.3L415.0 299.9M293.0 230.9L418.2 293.5M296.2 224.5L421.4 287.1M299.4 218.2L424.5 280.8M302.6 211.8L427.7 274.4M305.7 205.5L430.9 268.1M308.9 199.1L434.1 261.7M312.1 192.7L437.3 255.3M315.3 186.4L440.4 249.0M318.5 180.0L443.6 242.6M321.6 173.7L446.8 236.3M324.8 167.3L450.0 229.9M328.0 160.9L453.2 223.5M331.2 154.6L456.3 217.2" stroke="#5a0a28" stroke-width="1.0" opacity="0.85" fill="none"/>
<clipPath id="c29"><polygon points="328.1,264.0 353.2,276.9 353.4,287.2 328.1,285.5"/></clipPath>
<path clip-path="url(#c29)" d="M290.3 236.3L290.3 314.9M296.6 236.3L296.6 314.9M302.9 236.3L302.9 314.9M309.2 236.3L309.2 314.9M315.5 236.3L315.5 314.9M321.8 236.3L321.8 314.9M328.1 236.3L328.1 314.9M334.4 236.3L334.4 314.9M340.7 236.3L340.7 314.9M347.0 236.3L347.0 314.9M353.3 236.3L353.3 314.9M359.6 236.3L359.6 314.9M365.9 236.3L365.9 314.9M372.2 236.3L372.2 314.9M378.5 236.3L378.5 314.9M384.8 236.3L384.8 314.9M391.1 236.3L391.1 314.9" stroke="#5a0a28" stroke-width="1.0" opacity="0.85" fill="none"/>
<clipPath id="c30"><polygon points="328.1,264.0 353.2,276.9 353.4,287.2 328.1,285.5"/></clipPath>
<path clip-path="url(#c30)" d="M327.3 214.6L397.6 249.8M324.5 220.2L394.8 255.4M321.7 225.8L392.0 261.0M318.9 231.4L389.2 266.6M316.1 237.0L386.4 272.2M313.3 242.6L383.6 277.8M310.5 248.2L380.8 283.4M307.7 253.8L378.0 289.0M304.9 259.4L375.2 294.6M302.1 265.0L372.4 300.2M299.3 270.6L369.6 305.8M296.5 276.2L366.8 311.4M293.7 281.8L364.0 317.0M290.9 287.4L361.2 322.6M288.1 293.0L358.4 328.2M285.3 298.6L355.6 333.8M282.5 304.2L352.8 339.4" stroke="#5a0a28" stroke-width="1.0" opacity="0.85" fill="none"/>
<clipPath id="c31"><polygon points="268.3,319.7 278.0,328.4 283.0,387.6 271.0,345.0"/></clipPath>
<path clip-path="url(#c31)" d="M275.7 242.3L386.4 342.0M272.2 246.2L382.9 345.8M268.7 250.1L379.4 349.7M265.2 253.9L375.9 353.6M261.7 257.8L372.4 357.4M258.3 261.7L369.0 361.3M254.8 265.5L365.5 365.2M251.3 269.4L362.0 369.0M247.8 273.3L358.5 372.9M244.3 277.1L355.0 376.8M240.8 281.0L351.6 380.6M237.4 284.9L348.1 384.5M233.9 288.7L344.6 388.4M230.4 292.6L341.1 392.2M226.9 296.5L337.6 396.1M223.4 300.3L334.2 400.0M220.0 304.2L330.7 403.8M216.5 308.1L327.2 407.7M213.0 311.9L323.7 411.6M209.5 315.8L320.2 415.4M206.0 319.7L316.8 419.3M202.6 323.5L313.3 423.2M199.1 327.4L309.8 427.0M195.6 331.3L306.3 430.9M192.1 335.1L302.8 434.8M188.6 339.0L299.3 438.6M185.2 342.9L295.9 442.5M181.7 346.7L292.4 446.4M178.2 350.6L288.9 450.2M174.7 354.5L285.4 454.1M171.2 358.3L281.9 458.0M167.8 362.2L278.5 461.8M164.3 366.1L275.0 465.7" stroke="#5a0a28" stroke-width="1.0" opacity="0.85" fill="none"/>
<polyline points="268.3,319.7 278.0,328.4 353.4,287.2" fill="none" stroke="#5a0a28" stroke-width="1.2" stroke-linejoin="round"/>
<line x1="278.0" y1="328.4" x2="283.1" y2="387.6" stroke="#5a0a28" stroke-width="1.2"/>
<line x1="317.1" y1="306.7" x2="319.8" y2="366.3" stroke="#5a0a28" stroke-width="1.2"/>
<polyline points="328.3,264.0 353.2,276.9 384.5,259.0" fill="none" stroke="#5a0a28" stroke-width="1.2" stroke-linejoin="round"/>
<line x1="353.2" y1="276.9" x2="353.9" y2="345.0" stroke="#5a0a28" stroke-width="1.2"/>
<polygon points="281.0,356.5 354.0,315.0 354.0,319.5 281.0,361.0" fill="#ECCF9C"/>
<line x1="281.0" y1="356.5" x2="354.0" y2="315.0" stroke="#5a0a28" stroke-width="0.8" opacity="0.7"/>
<polygon points="354.0,308.8 386.5,290.9 386.5,295.5 354.0,313.3" fill="#ECCF9C"/>
<line x1="354.0" y1="308.8" x2="386.5" y2="290.9" stroke="#5a0a28" stroke-width="0.8" opacity="0.7"/>
<line x1="283.1" y1="387.6" x2="353.9" y2="345.1" stroke="#5a0a28" stroke-width="1"/>
<line x1="353.9" y1="341.8" x2="386.5" y2="322.3" stroke="#5a0a28" stroke-width="1"/>
<polygon points="491.0,156.0 498.0,152.5 505.0,155.0 522.0,154.0 522.4,166.0 515.0,172.0 505.0,176.0 496.0,176.0 491.0,172.0" fill="#78DC3A"/>
<polygon points="491.8,158.5 497.0,155.8 504.0,158.0 504.0,162.0 497.0,164.5 491.8,162.0" fill="#14EE64"/>
<polygon points="499.5,153.6 505.8,150.4 514.8,153.1 516.6,154.9 517.1,160.8 512.1,160.8 499.5,155.0" fill="#E2C83A"/>
<line x1="504.0" y1="155.0" x2="513.0" y2="158.0" stroke="#7a6a10" stroke-width="0.9" opacity="0.8"/>
<line x1="506.0" y1="151.5" x2="507.0" y2="157.0" stroke="#7a6a10" stroke-width="0.8" opacity="0.7"/>
<polygon points="522.4,153.6 540.0,146.5 552.0,152.2 552.2,163.0 545.0,167.6 538.3,170.3 522.0,164.4" fill="#78DC3A"/>
<polygon points="535.6,167.8 545.0,165.0 549.0,166.0 549.0,170.0 536.0,172.5" fill="#E0C870"/>
<polygon points="495.0,174.0 504.0,170.5 513.0,173.5 510.0,248.8 500.7,251.0 498.0,250.0" fill="#14EE64"/>
<polygon points="509.0,176.0 522.0,166.0 523.5,190.0 511.0,192.0" fill="#78DC3A"/>
<polygon points="511.0,188.5 521.8,185.0 526.0,187.0 524.8,235.7 510.0,241.2" fill="#38C8F0"/>
<clipPath id="c32"><polygon points="511.0,188.5 521.8,185.0 526.0,187.0 524.8,235.7 510.0,241.2"/></clipPath>
<path clip-path="url(#c32)" d="M579.0 154.7L579.0 271.5M576.0 154.7L576.0 271.5M573.0 154.7L573.0 271.5M570.0 154.7L570.0 271.5M567.0 154.7L567.0 271.5M564.0 154.7L564.0 271.5M561.0 154.7L561.0 271.5M558.0 154.7L558.0 271.5M555.0 154.7L555.0 271.5M552.0 154.7L552.0 271.5M549.0 154.7L549.0 271.5M546.0 154.7L546.0 271.5M543.0 154.7L543.0 271.5M540.0 154.7L540.0 271.5M537.0 154.7L537.0 271.5M534.0 154.7L534.0 271.5M531.0 154.7L531.0 271.5M528.0 154.7L528.0 271.5M525.0 154.7L525.0 271.5M522.0 154.7L522.0 271.5M519.0 154.7L519.0 271.5M516.0 154.7L516.0 271.5M513.0 154.7L513.0 271.5M510.0 154.7L510.0 271.5M507.0 154.7L507.0 271.5M504.0 154.7L504.0 271.5M501.0 154.7L501.0 271.5M498.0 154.7L498.0 271.5M495.0 154.7L495.0 271.5M492.0 154.7L492.0 271.5M489.0 154.7L489.0 271.5M486.0 154.7L486.0 271.5M483.0 154.7L483.0 271.5M480.0 154.7L480.0 271.5M477.0 154.7L477.0 271.5M474.0 154.7L474.0 271.5M471.0 154.7L471.0 271.5M468.0 154.7L468.0 271.5M465.0 154.7L465.0 271.5M462.0 154.7L462.0 271.5M459.0 154.7L459.0 271.5" stroke="#1a80c0" stroke-width="0.7" opacity="0.8" fill="none"/>
<clipPath id="c33"><polygon points="511.0,188.5 521.8,185.0 526.0,187.0 524.8,235.7 510.0,241.2"/></clipPath>
<path clip-path="url(#c33)" d="M440.3 182.8L546.8 134.8M441.6 185.7L548.2 137.7M442.9 188.6L549.5 140.7M444.2 191.5L550.8 143.6M445.5 194.4L552.1 146.5M446.8 197.4L553.4 149.4M448.2 200.3L554.7 152.3M449.5 203.2L556.0 155.2M450.8 206.1L557.4 158.2M452.1 209.0L558.7 161.1M453.4 212.0L560.0 164.0M454.7 214.9L561.3 166.9M456.0 217.8L562.6 169.8M457.3 220.7L563.9 172.8M458.7 223.6L565.2 175.7M460.0 226.5L566.5 178.6M461.3 229.5L567.9 181.5M462.6 232.4L569.2 184.4M463.9 235.3L570.5 187.3M465.2 238.2L571.8 190.3M466.5 241.1L573.1 193.2M467.9 244.1L574.4 196.1M469.2 247.0L575.7 199.0M470.5 249.9L577.1 201.9M471.8 252.8L578.4 204.9M473.1 255.7L579.7 207.8M474.4 258.6L581.0 210.7M475.7 261.6L582.3 213.6M477.0 264.5L583.6 216.5M478.4 267.4L584.9 219.4M479.7 270.3L586.2 222.4M481.0 273.2L587.6 225.3M482.3 276.2L588.9 228.2M483.6 279.1L590.2 231.1M484.9 282.0L591.5 234.0M486.2 284.9L592.8 237.0M487.6 287.8L594.1 239.9M488.9 290.7L595.4 242.8" stroke="#1a80c0" stroke-width="0.7" opacity="0.8" fill="none"/>
<polygon points="522.0,165.8 529.0,163.0 535.6,166.0 535.7,226.0 527.0,230.2 524.0,230.0" fill="#5ED8A0"/>
<polygon points="526.0,200.0 535.7,196.0 535.7,226.0 527.0,230.2" fill="#14EE64"/>
<polygon points="535.7,173.0 544.6,170.2 549.0,172.0 546.5,219.5 536.0,224.5" fill="#CDCDD3"/>
<polygon points="535.7,172.7 544.6,169.8 549.0,171.0 549.0,174.0 537.0,176.5" fill="#9080C0"/>
<polyline points="497.0,177.0 504.5,174.0 512.0,176.5 505.0,179.5 497.0,177.0" fill="none" stroke="#0a6a2a" stroke-width="1.0" stroke-linejoin="round" opacity="0.9"/>
<line x1="505.0" y1="179.5" x2="505.5" y2="250.0" stroke="#0a6a2a" stroke-width="1.2" opacity="0.9"/>
<line x1="498.5" y1="178.0" x2="500.0" y2="250.5" stroke="#0a6a2a" stroke-width="0.9" opacity="0.8"/>
<polyline points="498.8,187.8 505.2,191.0 511.5,187.5" fill="none" stroke="#0a6a2a" stroke-width="1.0" stroke-linejoin="round" opacity="0.85"/>
<polyline points="498.8,199.8 505.2,203.0 511.5,199.5" fill="none" stroke="#0a6a2a" stroke-width="1.0" stroke-linejoin="round" opacity="0.85"/>
<polyline points="498.8,211.8 505.2,215.0 511.5,211.5" fill="none" stroke="#0a6a2a" stroke-width="1.0" stroke-linejoin="round" opacity="0.85"/>
<polyline points="498.8,223.8 505.2,227.0 511.5,223.5" fill="none" stroke="#0a6a2a" stroke-width="1.0" stroke-linejoin="round" opacity="0.85"/>
<polyline points="498.8,235.8 505.2,239.0 511.5,235.5" fill="none" stroke="#0a6a2a" stroke-width="1.0" stroke-linejoin="round" opacity="0.85"/>
<polyline points="491.0,160.0 500.0,156.0" fill="none" stroke="#2f6a10" stroke-width="1.2" stroke-linejoin="round" opacity="0.9"/>
<line x1="495.0" y1="170.0" x2="521.0" y2="158.0" stroke="#2f6a10" stroke-width="1.2" opacity="0.9"/>
<line x1="506.0" y1="176.0" x2="522.0" y2="167.5" stroke="#2f6a10" stroke-width="1.2" opacity="0.9"/>
<line x1="496.0" y1="164.0" x2="510.0" y2="170.0" stroke="#2f6a10" stroke-width="1.1" opacity="0.9"/>
<line x1="510.0" y1="170.0" x2="510.5" y2="176.0" stroke="#2f6a10" stroke-width="1.1" opacity="0.9"/>
<line x1="521.5" y1="158.0" x2="521.8" y2="167.0" stroke="#2f6a10" stroke-width="1.2" opacity="0.9"/>
<polyline points="522.4,168.0 529.0,165.0 535.6,167.5 529.0,170.5 522.4,168.0" fill="none" stroke="#1a6a4a" stroke-width="1.0" stroke-linejoin="round" opacity="0.9"/>
<line x1="529.0" y1="170.5" x2="529.5" y2="229.0" stroke="#1a6a4a" stroke-width="1.0" opacity="0.8"/>
<polyline points="523.0,178.5 529.2,181.0 535.6,178.0" fill="none" stroke="#1a6a4a" stroke-width="1.0" stroke-linejoin="round" opacity="0.8"/>
<polyline points="523.0,190.5 529.2,193.0 535.6,190.0" fill="none" stroke="#1a6a4a" stroke-width="1.0" stroke-linejoin="round" opacity="0.8"/>
<polyline points="523.0,202.5 529.2,205.0 535.6,202.0" fill="none" stroke="#1a6a4a" stroke-width="1.0" stroke-linejoin="round" opacity="0.8"/>
<polyline points="523.0,214.5 529.2,217.0 535.6,214.0" fill="none" stroke="#1a6a4a" stroke-width="1.0" stroke-linejoin="round" opacity="0.8"/>
<line x1="538.5" y1="175.0" x2="538.5" y2="221.4" stroke="#8a8a90" stroke-width="0.9" opacity="0.9"/>
<line x1="541.5" y1="175.0" x2="541.5" y2="220.0" stroke="#8a8a90" stroke-width="0.9" opacity="0.9"/>
<line x1="545.0" y1="175.0" x2="545.0" y2="218.4" stroke="#8a8a90" stroke-width="0.9" opacity="0.9"/>
<line x1="549.0" y1="172.0" x2="546.5" y2="219.5" stroke="#6a6a70" stroke-width="1.0" opacity="0.9"/>
<polyline points="522.4,153.6 522.0,164.4 538.3,170.3 552.2,163.0" fill="none" stroke="#2f6a10" stroke-width="1.1" stroke-linejoin="round"/>
<line x1="522.4" y1="153.6" x2="537.0" y2="147.0" stroke="#2f6a10" stroke-width="1.0" opacity="0.8"/>
<line x1="537.0" y1="147.0" x2="552.0" y2="152.2" stroke="#2f6a10" stroke-width="1.0" opacity="0.8"/>
<line x1="522.4" y1="157.5" x2="538.3" y2="164.0" stroke="#2f6a10" stroke-width="1.0" opacity="0.9"/>
<line x1="538.3" y1="164.0" x2="552.2" y2="157.0" stroke="#2f6a10" stroke-width="1.0" opacity="0.9"/>
<line x1="538.3" y1="164.0" x2="538.3" y2="170.3" stroke="#2f6a10" stroke-width="1.0" opacity="0.9"/>
<polyline points="499.5,153.6 505.8,150.4 514.8,153.1 516.6,154.9 517.1,160.8 512.1,160.8 499.5,155.0" fill="none" stroke="#6a5a00" stroke-width="0.8" stroke-linejoin="round" opacity="0.8"/>
<polygon points="170.4,311.9 190.0,321.2 191.6,338.0 187.8,340.2 171.5,331.5" fill="#0505F2"/>
<line x1="187.8" y1="322.0" x2="188.5" y2="340.0" stroke="#00007a" stroke-width="1.0" opacity="0.8"/>
<line x1="171.5" y1="331.5" x2="187.8" y2="340.2" stroke="#00007a" stroke-width="1.0" opacity="0.8"/>
<polygon points="174.5,332.6 187.8,340.2 191.6,338.0 194.0,338.5 199.0,381.4 180.2,372.0" fill="#FF5A10"/>
<line x1="180.2" y1="372.0" x2="199.0" y2="381.4" stroke="#5a2000" stroke-width="0.9" opacity="0.7"/>
<polygon points="190.5,311.4 210.5,323.5 214.8,400.3 199.6,389.3 191.0,338.0" fill="#0505F2"/>
<polyline points="191.0,313.0 206.5,321.5 209.8,323.5" fill="none" stroke="#00007a" stroke-width="1.1" stroke-linejoin="round" opacity="0.9"/>
<line x1="209.5" y1="323.5" x2="214.5" y2="398.8" stroke="#00007a" stroke-width="1.3" opacity="0.9"/>
<line x1="191.0" y1="313.0" x2="193.0" y2="338.0" stroke="#00007a" stroke-width="1.0" opacity="0.8"/>
<line x1="193.0" y1="338.0" x2="199.5" y2="389.0" stroke="#00007a" stroke-width="1.0" opacity="0.8"/>
<line x1="193.3" y1="336.0" x2="210.4" y2="344.5" stroke="#00007a" stroke-width="1.1" opacity="0.85"/>
<line x1="195.4" y1="357.0" x2="211.8" y2="365.5" stroke="#00007a" stroke-width="1.1" opacity="0.85"/>
<line x1="197.5" y1="378.0" x2="213.2" y2="386.5" stroke="#00007a" stroke-width="1.1" opacity="0.85"/>
<polygon points="228.0,343.0 267.6,323.8 271.0,322.5 272.0,343.0 255.0,352.0 255.0,404.0 241.0,406.0 228.0,401.0" fill="#82BC9A"/>
<polyline points="231.5,347.0 269.0,327.5" fill="none" stroke="#1f4a35" stroke-width="1.2" stroke-linejoin="round" opacity="0.85"/>
<polyline points="232.0,351.0 270.0,331.5" fill="none" stroke="#3a6a50" stroke-width="0.8" stroke-linejoin="round" opacity="0.6"/>
<polyline points="233.0,362.0 252.0,352.5" fill="none" stroke="#3a6a50" stroke-width="1.0" stroke-linejoin="round" opacity="0.7"/>
<line x1="239.0" y1="350.0" x2="241.0" y2="405.0" stroke="#2a4a3a" stroke-width="1.1" opacity="0.8"/>
<line x1="241.0" y1="405.0" x2="241.5" y2="420.0" stroke="#2a4a3a" stroke-width="1.0" opacity="0.8"/>
<polygon points="210.6,333.0 229.9,342.7 229.5,401.0 215.6,398.7" fill="#5A24EA"/>
<line x1="219.5" y1="338.0" x2="222.0" y2="400.0" stroke="#2a0a70" stroke-width="1.0" opacity="0.8"/>
<line x1="211.5" y1="357.0" x2="229.5" y2="365.0" stroke="#2a0a70" stroke-width="1.0" opacity="0.8"/>
<line x1="211.5" y1="379.0" x2="229.5" y2="387.0" stroke="#2a0a70" stroke-width="1.0" opacity="0.8"/>
<line x1="229.9" y1="342.7" x2="229.5" y2="401.0" stroke="#2a0a70" stroke-width="1.0" opacity="0.8"/>
<line x1="215.6" y1="398.7" x2="229.5" y2="401.0" stroke="#2a0a70" stroke-width="1.0" opacity="0.8"/>
<polygon points="211.0,322.8 248.7,301.5 266.1,313.4 267.6,316.0 267.6,323.8 231.8,343.7 229.9,342.7 211.0,333.8" fill="#78DC3A" stroke="#2f6a10" stroke-width="1.0" stroke-linejoin="round"/>
<polyline points="211.0,322.8 228.9,334.3 266.1,313.4" fill="none" stroke="#2f6a10" stroke-width="1.3" stroke-linejoin="round"/>
<line x1="228.9" y1="334.3" x2="230.5" y2="343.0" stroke="#2f6a10" stroke-width="1.3"/>
<line x1="230.8" y1="312.4" x2="247.7" y2="322.8" stroke="#2f6a10" stroke-width="1.2"/>
<line x1="247.7" y1="322.8" x2="248.5" y2="333.5" stroke="#2f6a10" stroke-width="1.1"/>
<line x1="229.7" y1="338.8" x2="267.2" y2="318.6" stroke="#2f6a10" stroke-width="1.0" opacity="0.8"/>
<polygon points="226.3,356.5 229.3,355.0 236.8,357.5 237.1,403.5 228.8,403.0" fill="#C6F4C0" stroke="#6aa86a" stroke-width="0.7" stroke-linejoin="round"/>
<line x1="229.5" y1="357.5" x2="231.3" y2="403.0" stroke="#3a7a3a" stroke-width="1.0" opacity="0.9"/>
<line x1="232.6" y1="358.5" x2="234.1" y2="403.0" stroke="#3a7a3a" stroke-width="0.9" opacity="0.8"/>
<line x1="236.3" y1="358.0" x2="236.8" y2="403.0" stroke="#2a5a30" stroke-width="1.2" opacity="0.9"/>
<polygon points="244.0,356.5 247.0,355.0 252.3,357.5 252.6,403.5 246.5,403.0" fill="#C6F4C0" stroke="#6aa86a" stroke-width="0.7" stroke-linejoin="round"/>
<line x1="247.2" y1="357.5" x2="249.0" y2="403.0" stroke="#3a7a3a" stroke-width="1.0" opacity="0.9"/>
<line x1="250.3" y1="358.5" x2="251.8" y2="403.0" stroke="#3a7a3a" stroke-width="0.9" opacity="0.8"/>
<line x1="251.8" y1="358.0" x2="252.3" y2="403.0" stroke="#2a5a30" stroke-width="1.2" opacity="0.9"/>
<polygon points="252.2,353.3 276.9,343.2 280.0,344.0 281.7,389.4 257.6,402.3 255.0,400.0" fill="#B88E8A" stroke="#5a3a38" stroke-width="0.9" stroke-linejoin="round"/>
<line x1="255.0" y1="355.0" x2="257.6" y2="402.3" stroke="#5a3a38" stroke-width="0.9" opacity="0.8"/>
<line x1="242.0" y1="420.0" x2="548.2" y2="221.3" stroke="#3a3a3a" stroke-width="1.1"/>
<line x1="179.4" y1="375.2" x2="241.7" y2="419.5" stroke="#3a3a3a" stroke-width="1.1"/>
<line x1="180.5" y1="373.5" x2="240.8" y2="415.8" stroke="#3a3a3a" stroke-width="0.7" opacity="0.6"/>
<line x1="554.8" y1="151.0" x2="548.2" y2="221.3" stroke="#3a3a3a" stroke-width="1.1"/>
<line x1="552.8" y1="152.0" x2="546.6" y2="219.5" stroke="#3a3a3a" stroke-width="0.6" opacity="0.6"/>
</svg>
<div class="lbl" id="l1" style="left:195.6px;top:166px;">Pallet</div>
<div class="lbl" id="l2" style="left:21.6px;top:275.5px;letter-spacing:-0.45px;">Carton</div>
<div class="lbl" id="l3" style="left:546px;top:403px;letter-spacing:-0.4px;">UnitLoad</div>
<div class="lbl" id="l4" style="left:395px;top:474px;">Pallet</div>
</body></html>
